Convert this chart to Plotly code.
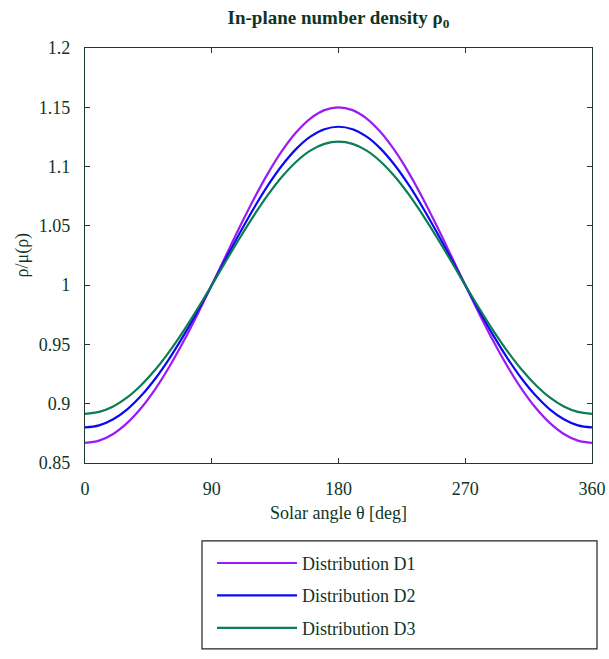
import plotly.graph_objects as go

theta = list(range(0, 361, 10))

d1_half = [0.8670, 0.8689, 0.8745, 0.8838, 0.8966, 0.9126, 0.9314, 0.9526, 0.9757, 1.0,
           1.0248, 1.0494, 1.0729, 1.0945, 1.1134, 1.1289, 1.1405, 1.1476, 1.1500]
d2_half = [0.8800, 0.8817, 0.8869, 0.8953, 0.9069, 0.9213, 0.9383, 0.9574, 0.9782, 1.0,
           1.0222, 1.0442, 1.0651, 1.0843, 1.1011, 1.1149, 1.1252, 1.1315, 1.1336]
d3_half = [0.8915, 0.8931, 0.8977, 0.9053, 0.9158, 0.9288, 0.9442, 0.9615, 0.9803, 1.0,
           1.0201, 1.0400, 1.0589, 1.0763, 1.0916, 1.1041, 1.1134, 1.1191, 1.1210]

d1 = d1_half + d1_half[-2::-1]
d2 = d2_half + d2_half[-2::-1]
d3 = d3_half + d3_half[-2::-1]

names = ["Distribution D1", "Distribution D2", "Distribution D3"]
colors = ["#9B1AF5", "#0A0AF0", "#0A7D55"]

x_ticks = [0, 90, 180, 270, 360]
y_ticks = [0.85, 0.9, 0.95, 1.0, 1.05, 1.1, 1.15, 1.2]
y_tick_text = ["0.85", "0.9", "0.95", "1", "1.05", "1.1", "1.15", "1.2"]

TXT = "#0f3526"
AX = "#1c3a2e"
FONT = "Liberation Serif"

W, H = 609, 659
L, R, T, B = 85, 17, 48, 190
PW = W - L - R
PH = H - T - B

def px_x(p):  # page pixel -> plot paper x
    return (p - L) / PW

def px_y(p):  # page pixel -> plot paper y
    return (T + PH - p) / PH

fig = go.Figure()
for i, (name, ys, c) in enumerate(zip(names, [d1, d2, d3], colors)):
    fig.add_trace(go.Scatter(x=theta, y=ys, mode="lines", name=name,
                             legendgroup=f"g{i}",
                             line=dict(color=c, width=2.2, shape="spline", smoothing=1.0)))

fig.update_layout(
    width=W, height=H,
    margin=dict(l=L, r=R, t=T, b=B),
    paper_bgcolor="white", plot_bgcolor="white",
    font=dict(family=FONT, size=18, color=TXT),
    title=dict(text="<b>In-plane number density ρ<sub>0</sub></b>",
               x=(L + PW / 2) / W, xanchor="center", y=1 - 17 / H, yanchor="middle",
               font=dict(family=FONT, size=19, color=TXT)),
    showlegend=True,
    legend=dict(x=px_x(212), y=px_y(552), xanchor="left", yanchor="top",
                bgcolor="rgba(0,0,0,0)", borderwidth=0,
                font=dict(family=FONT, size=18, color=TXT),
                itemwidth=80, tracegroupgap=6),
    shapes=[dict(type="rect", xref="paper", yref="paper",
                 x0=px_x(202), x1=px_x(597),
                 y0=px_y(657.5), y1=px_y(548),
                 line=dict(color="#222222", width=1.2), fillcolor="rgba(0,0,0,0)")],
    annotations=[dict(text="ρ/μ(ρ)", xref="paper", yref="paper",
                      x=px_x(22), y=0.5, xanchor="center", yanchor="middle",
                      textangle=-90, showarrow=False,
                      font=dict(family=FONT, size=18, color=TXT))],
)

fig.update_xaxes(range=[0, 360], tickvals=x_ticks, ticktext=[str(v) for v in x_ticks],
                 showgrid=False, zeroline=False, showline=True, linecolor=AX, linewidth=1.2,
                 mirror="ticks", ticks="inside", ticklen=5, tickcolor=AX,
                 ticklabelstandoff=9, automargin=False,
                 tickfont=dict(family=FONT, size=18, color=TXT),
                 title=dict(text="Solar angle θ [deg]", standoff=8,
                            font=dict(family=FONT, size=18, color=TXT)))
fig.update_yaxes(range=[0.85, 1.2], tickvals=y_ticks, ticktext=y_tick_text,
                 showgrid=False, zeroline=False, showline=True, linecolor=AX, linewidth=1.2,
                 mirror="ticks", ticks="inside", ticklen=5, tickcolor=AX,
                 ticklabelstandoff=10, automargin=False,
                 tickfont=dict(family=FONT, size=18, color=TXT))

fig.write_html("out.html",
               config={"displayModeBar": False},
               post_script="document.body.style.margin='0';document.body.style.overflow='hidden';")
